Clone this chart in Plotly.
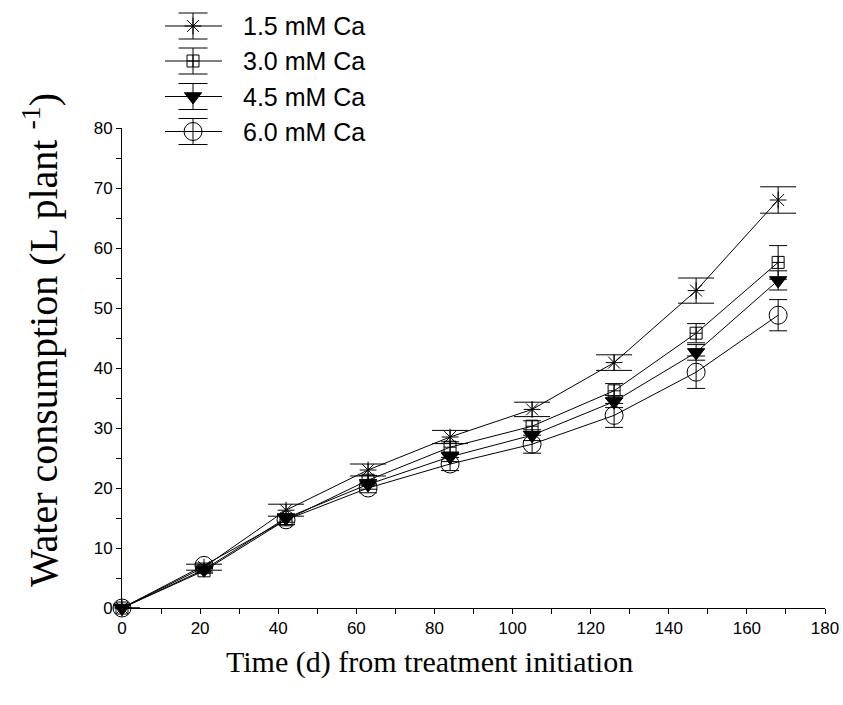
import plotly.graph_objects as go

# Days since treatment started
days = [0, 21, 42, 63, 84, 105, 126, 147, 168]

# Cumulative water consumption (L plant-1) and standard errors per Ca level
ca_15 = [0, 6.8, 16.3, 23.0, 28.5, 33.1, 40.9, 52.9, 68.0]
ca_15_err = [0, 0.5, 1.0, 1.0, 1.1, 1.2, 1.3, 2.1, 2.2]
ca_30 = [0, 6.2, 14.7, 21.3, 26.8, 30.3, 36.2, 45.8, 57.6]
ca_30_err = [0, 0.4, 0.8, 0.8, 0.9, 0.9, 1.2, 1.6, 2.8]
ca_45 = [0, 6.4, 15.0, 20.6, 25.2, 28.8, 34.4, 42.6, 54.6]
ca_45_err = [0, 0.4, 0.7, 0.8, 0.8, 0.9, 1.0, 1.3, 1.6]
ca_60 = [0, 7.1, 14.7, 20.0, 24.0, 27.3, 32.1, 39.3, 48.8]
ca_60_err = [0, 0.4, 0.8, 0.8, 1.1, 1.5, 2.0, 2.7, 2.6]

series_names = ["1.5 mM Ca", "3.0 mM Ca", "4.5 mM Ca", "6.0 mM Ca"]
series_values = [ca_15, ca_30, ca_45, ca_60]
series_errors = [ca_15_err, ca_30_err, ca_45_err, ca_60_err]

# Marker styles per series: (symbol, size, cap half-width)
styles = [
    ("asterisk-open", 14, 18),
    ("square-cross-open", 12, 9),
    ("triangle-down", 15, 9),
    ("circle-open", 18, 9),
]

W, H = 843, 705
ML, MR, MT, MB = 122, 18, 5, 97
plot_h = H - MT - MB  # 603 px of paper height
main_top = 480 / plot_h  # main y-axis occupies the lower part

sans = "Arial, Liberation Sans, sans-serif"
serif = "Times New Roman, Liberation Serif, serif"

fig = go.Figure()

for name, vals, errs, (sym, size, cap) in zip(series_names, series_values, series_errors, styles):
    fig.add_trace(go.Scatter(
        x=days, y=vals, name=name, mode="lines+markers",
        line=dict(color="black", width=1),
        marker=dict(symbol=sym, size=size, color="black",
                    line=dict(color="black", width=1)),
        error_y=dict(type="data", array=errs, visible=True,
                     color="black", thickness=1, width=cap),
        cliponaxis=False, showlegend=False,
    ))

# Hand-drawn key in pixel coordinates (x2/y2 span the whole paper area)
key_rows = [26, 61, 96.5, 131.5]
key_x = 193
key_line = (165, 222)
key_err = 13
key_text_x = 241

for name, row, (sym, size, cap) in zip(series_names, key_rows, styles):
    fig.add_trace(go.Scatter(
        x=[key_line[0], key_line[1]], y=[row, row], mode="lines",
        line=dict(color="black", width=1), xaxis="x2", yaxis="y2",
        showlegend=False, hoverinfo="skip", cliponaxis=False,
    ))
    fig.add_trace(go.Scatter(
        x=[key_x], y=[row], mode="markers",
        marker=dict(symbol=sym, size=size, color="black",
                    line=dict(color="black", width=1)),
        error_y=dict(type="constant", value=key_err, visible=True,
                     color="black", thickness=1, width=14.5),
        xaxis="x2", yaxis="y2", showlegend=False, hoverinfo="skip",
        cliponaxis=False,
    ))
    fig.add_annotation(
        x=key_text_x, y=row, xref="x2", yref="y2", text=name,
        showarrow=False, xanchor="left", yanchor="middle",
        font=dict(family=sans, size=25, color="black"),
    )

fig.add_annotation(
    x=0, y=(H - MB - 340) / plot_h, xref="paper", yref="paper", xshift=-82,
    text="Water consumption (L plant <sup>-1</sup>)", textangle=-90,
    showarrow=False, xanchor="center", yanchor="middle",
    font=dict(family=serif, size=40, color="black"),
)
fig.add_annotation(
    x=0.438, y=0, xref="paper", yref="paper", yshift=-54,
    text="Time (d) from treatment initiation",
    showarrow=False, xanchor="center", yanchor="middle",
    font=dict(family=serif, size=30, color="black"),
)

axis_common = dict(
    showline=True, linecolor="black", linewidth=1, showgrid=False,
    zeroline=False, ticks="outside", ticklen=5, tickwidth=1,
    tickcolor="black", tickfont=dict(family=sans, size=17, color="black"),
)

fig.update_layout(
    width=W, height=H,
    margin=dict(l=ML, r=MR, t=MT, b=MB, autoexpand=False),
    paper_bgcolor="white", plot_bgcolor="rgba(0,0,0,0)",
    xaxis=dict(range=[0, 180], tick0=0, dtick=20, domain=[0, 1],
               minor=dict(dtick=10, ticks="outside", ticklen=5,
                          tickcolor="black"),
               **axis_common),
    yaxis=dict(range=[0, 80], tick0=0, dtick=10, domain=[0, main_top],
               minor=dict(dtick=5, ticks="outside", ticklen=5,
                          tickcolor="black"),
               **axis_common),
    xaxis2=dict(range=[ML, W - MR], domain=[0, 1], anchor="y2",
                visible=False, fixedrange=True),
    yaxis2=dict(range=[H - MB, MT], domain=[0, 1], anchor="x2",
                visible=False, fixedrange=True),
    showlegend=False,
)

fig.write_html("out.html")
